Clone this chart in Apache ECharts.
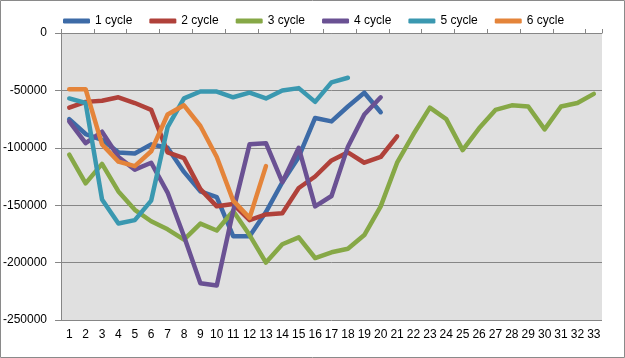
<!DOCTYPE html>
<html><head><meta charset="utf-8">
<script src="https://cdn.jsdelivr.net/npm/echarts@6/dist/echarts.min.js"></script>
<style>html,body{margin:0;padding:0;background:#fff}#c{width:625px;height:358px}</style>
</head><body><div id="c"></div>
<script>
const categories = Array.from({length:33},(_,i)=>String(i+1));
const seriesNames = ['1 cycle','2 cycle','3 cycle','4 cycle','5 cycle','6 cycle'];
const cycle1 = [-75000,-88000,-93000,-104000,-105000,-97000,-100000,-121000,-138000,-143000,-177000,-177000,-156000,-130000,-108000,-74000,-77000,-64000,-52000,-69000];
const cycle2 = [-65000,-60000,-59000,-56000,-61000,-67000,-104000,-109000,-136000,-151000,-149000,-163000,-158000,-157000,-135000,-125000,-111000,-104000,-113000,-108000,-90000];
const cycle3 = [-106000,-131000,-114000,-138000,-154000,-164000,-171000,-180000,-166000,-172000,-155000,-176000,-200000,-184000,-178000,-196000,-191000,-188000,-176000,-151000,-113000,-88000,-65000,-75000,-102000,-83000,-67000,-63000,-64000,-84000,-64000,-61000,-53000];
const cycle4 = [-77000,-96000,-86000,-108000,-119000,-113000,-139000,-177000,-218000,-220000,-155000,-97000,-96000,-130000,-100000,-151000,-142000,-99000,-71000,-56000];
const cycle5 = [-57000,-61000,-145000,-166000,-163000,-146000,-82000,-57000,-51000,-51000,-56000,-52000,-57000,-50000,-48000,-60000,-43000,-39000];
const cycle6 = [-49000,-49000,-97000,-112000,-116000,-103000,-71000,-63000,-81000,-108000,-146000,-161000,-116000];
const allData = [cycle1,cycle2,cycle3,cycle4,cycle5,cycle6];
const colors = ['#3d6ba7','#b0413a','#86a846','#6a5193','#3a98b0','#e4843a'];

const chart = echarts.init(document.getElementById('c'), null, {renderer:'canvas'});
const font = 'Liberation Sans, Arial, sans-serif';
chart.setOption({
  animation:false,
  color: colors,
  backgroundColor:'#fff',
  graphic:[{type:'rect',shape:{x:0.5,y:0.5,width:624,height:357},style:{fill:'none',stroke:'#8a8a8a',lineWidth:1},z:100}],
  legend:{
    data: seriesNames, top:10, left:58, itemGap:17, itemWidth:27, itemHeight:5,
    icon:'roundRect',
    textStyle:{fontFamily:font,fontSize:12,color:'#000'}
  },
  grid:{left:60,right:23,top:33,bottom:38,show:true,backgroundColor:'#e0e0e0',borderWidth:0},
  xAxis:[
    {type:'category',data:categories,position:'bottom',boundaryGap:true,
     axisLine:{show:false},axisTick:{show:false},
     axisLabel:{fontFamily:font,fontSize:12,color:'#000',margin:9,interval:0}},
    {type:'category',data:categories,position:'top',boundaryGap:true,
     axisLine:{show:true,onZero:false,lineStyle:{color:'#868686',width:1}},
     axisTick:{show:true,inside:false,length:4,lineStyle:{color:'#868686'}},
     axisLabel:{show:false}}
  ],
  yAxis:{type:'value',min:-250000,max:0,interval:50000,
    axisLine:{show:true,lineStyle:{color:'#868686'}},
    axisTick:{show:true,length:6,lineStyle:{color:'#868686'}},
    axisLabel:{fontFamily:font,fontSize:12,color:'#000',margin:14,formatter:v=>String(v)},
    splitLine:{show:true,lineStyle:{color:'#868686',width:1}}
  },
  series: seriesNames.map((n,k)=>({
    name:n,type:'line',data:allData[k],symbol:'none',showSymbol:false,
    lineStyle:{width:4.5,cap:'round',join:'round',color:colors[k]},
    xAxisIndex:0
  }))
});
</script></body></html>
